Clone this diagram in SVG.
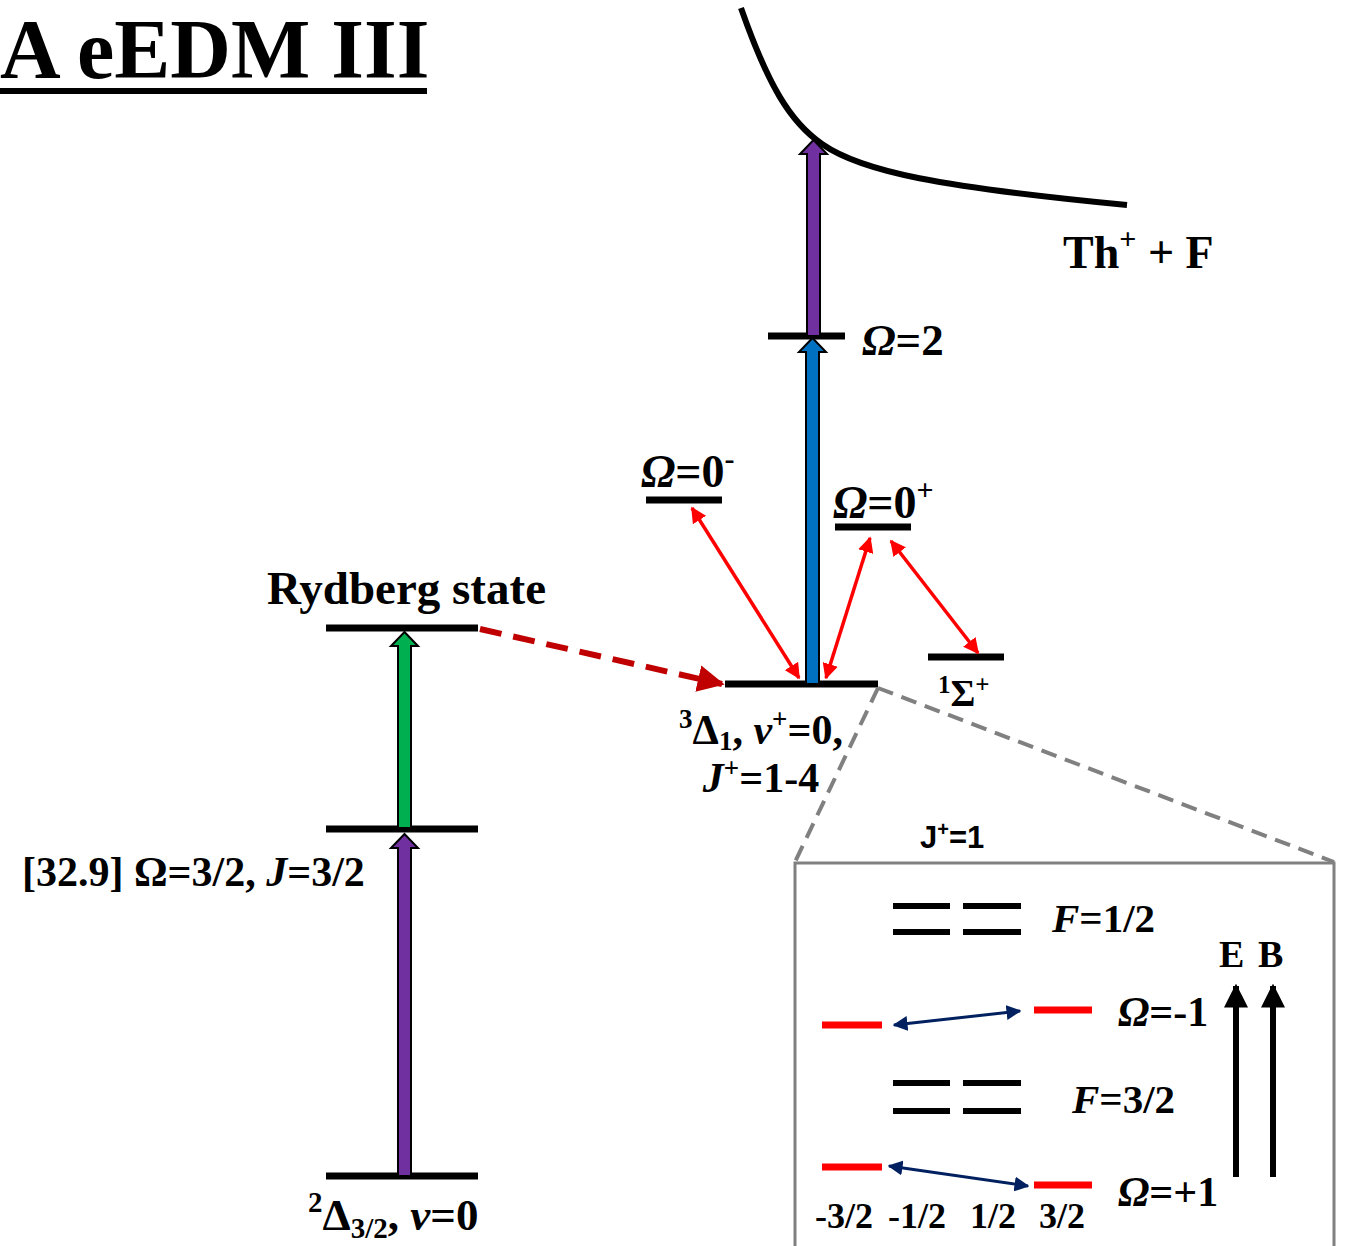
<svg xmlns="http://www.w3.org/2000/svg" width="1346" height="1246" viewBox="0 0 1346 1246">
<defs>
<style>
.t{font-family:"Liberation Serif","Times New Roman",serif;font-weight:bold;fill:#000}
.s{font-family:"Liberation Sans",Arial,sans-serif;font-weight:bold;fill:#000}
.lvl{stroke:#000;stroke-width:7;fill:none}
.red{stroke:#FF0000;stroke-width:7;fill:none}
.blk{stroke:#000;stroke-width:6;fill:none}
</style>
<marker id="rh" viewBox="0 0 10 10" refX="9" refY="5" markerWidth="4.5" markerHeight="4.5" orient="auto-start-reverse" markerUnits="strokeWidth"><path d="M0,0 L10,5 L0,10 Z" fill="#FF0000"/></marker>
<marker id="nh" viewBox="0 0 10 10" refX="9" refY="5" markerWidth="5" markerHeight="5" orient="auto-start-reverse" markerUnits="strokeWidth"><path d="M0,0 L10,5 L0,10 Z" fill="#002060"/></marker>
<marker id="dh" viewBox="0 0 10 10" refX="9" refY="5" markerWidth="4.5" markerHeight="4.5" orient="auto" markerUnits="strokeWidth"><path d="M0,0 L10,5 L0,10 Z" fill="#C00000"/></marker>
<marker id="kh" viewBox="0 0 10 10" refX="9" refY="5" markerWidth="4" markerHeight="4" orient="auto" markerUnits="strokeWidth"><path d="M0,0 L10,5 L0,10 Z" fill="#000"/></marker>
</defs>

<g id="title">
<text class="t" x="0" y="78" font-size="84">A eEDM III</text>
<rect x="0" y="88" width="427" height="6" fill="#000"/>
</g>

<g id="dissociation">
<path d="M741,8 C768,85 790,122 822,144 C862,172 940,187 1127,205" stroke="#000" stroke-width="6" fill="none"/>
<text class="t" x="1063" y="268" font-size="46">Th<tspan font-size="30" dy="-19">+</tspan><tspan dy="19"> + F</tspan></text>
</g>

<g id="omega2">
<line class="lvl" x1="768" y1="336" x2="845" y2="336"/>
<text class="t" x="862" y="355" font-size="45"><tspan font-style="italic">Ω</tspan>=2</text>
</g>

<g id="omega0minus">
<line class="lvl" x1="646" y1="500" x2="722" y2="500"/>
<text class="t" x="641" y="487" font-size="46"><tspan font-style="italic">Ω</tspan>=0<tspan font-size="30" dy="-18">-</tspan></text>
</g>

<g id="omega0plus">
<line class="lvl" x1="835" y1="527" x2="911" y2="527"/>
<text class="t" x="833" y="518" font-size="46"><tspan font-style="italic">Ω</tspan>=0<tspan font-size="30" dy="-18">+</tspan></text>
</g>

<g id="sigma">
<line class="lvl" x1="928" y1="657" x2="1004" y2="657"/>
<text class="t" x="938" y="706" font-size="38"><tspan font-size="25" dy="-13">1</tspan><tspan dy="13">Σ</tspan><tspan font-size="25" dy="-13">+</tspan></text>
</g>

<g id="delta1">
<line class="lvl" x1="725" y1="684" x2="878" y2="684"/>
<text class="t" x="761" y="744" font-size="42" text-anchor="middle"><tspan font-size="27" dy="-16">3</tspan><tspan dy="16">Δ</tspan><tspan font-size="27" dy="6">1</tspan><tspan dy="-6">, </tspan><tspan font-style="italic">v</tspan><tspan font-size="27" dy="-16">+</tspan><tspan dy="16">=0,</tspan></text>
<text class="t" x="761" y="792" font-size="42" text-anchor="middle"><tspan font-style="italic">J</tspan><tspan font-size="27" dy="-15">+</tspan><tspan dy="15">=1-4</tspan></text>
</g>

<g id="rydberg">
<line class="lvl" x1="326" y1="628" x2="478" y2="628"/>
<text class="t" x="267" y="604" font-size="47">Rydberg state</text>
</g>

<g id="intermediate">
<line class="lvl" x1="326" y1="829" x2="478" y2="829"/>
<text class="t" x="22" y="886" font-size="42">[32.9] Ω=3/2, <tspan font-style="italic">J</tspan>=3/2</text>
</g>

<g id="ground">
<line class="lvl" x1="326" y1="1176" x2="478" y2="1176"/>
<text class="t" x="308" y="1230" font-size="45"><tspan font-size="29" dy="-18">2</tspan><tspan dy="18">Δ</tspan><tspan font-size="29" dy="8">3/2</tspan><tspan dy="-8">, </tspan><tspan font-style="italic">v</tspan>=0</text>
</g>

<g id="connectors">
<path d="M807,336 L807,154 L800,154 L813.5,140 L827,154 L820,154 L820,336 Z" fill="#7030A0" stroke="#000" stroke-width="2"/>
<path d="M806,684 L806,352 L799,352 L812.5,338 L826,352 L819,352 L819,684 Z" fill="#0070C0" stroke="#000" stroke-width="2"/>
<path d="M398,828 L398,646 L391,646 L404.5,632 L418,646 L411,646 L411,828 Z" fill="#00B050" stroke="#000" stroke-width="2"/>
<path d="M398,1176 L398,848 L391,848 L404.5,834 L418,848 L411,848 L411,1176 Z" fill="#7030A0" stroke="#000" stroke-width="2"/>
<line x1="480" y1="629" x2="722" y2="684" stroke="#C00000" stroke-width="6" stroke-dasharray="22,12" marker-end="url(#dh)"/>
<line x1="692" y1="508" x2="799" y2="678" stroke="#FF0000" stroke-width="3.5" marker-start="url(#rh)" marker-end="url(#rh)"/>
<line x1="870" y1="538" x2="826" y2="678" stroke="#FF0000" stroke-width="3.5" marker-start="url(#rh)" marker-end="url(#rh)"/>
<line x1="891" y1="541" x2="978" y2="653" stroke="#FF0000" stroke-width="3.5" marker-start="url(#rh)" marker-end="url(#rh)"/>
<line x1="878" y1="688" x2="795" y2="862" stroke="#808080" stroke-width="4" stroke-dasharray="16,9"/>
<line x1="878" y1="688" x2="1334" y2="862" stroke="#808080" stroke-width="4" stroke-dasharray="16,9"/>
</g>

<g id="zoombox">
<path d="M795,1250 L795,863 L1334,863 L1334,1250" fill="none" stroke="#808080" stroke-width="3"/>
<text class="s" x="920" y="848" font-size="31">J<tspan font-size="20" dy="-12">+</tspan><tspan dy="12">=1</tspan></text>
</g>

<g id="F12">
<line class="blk" x1="893" y1="906" x2="950" y2="906"/>
<line class="blk" x1="893" y1="932" x2="950" y2="932"/>
<line class="blk" x1="963" y1="906" x2="1021" y2="906"/>
<line class="blk" x1="963" y1="932" x2="1021" y2="932"/>
<text class="t" x="1052" y="932" font-size="41"><tspan font-style="italic">F</tspan>=1/2</text>
</g>

<g id="F32">
<line class="blk" x1="893" y1="1083" x2="950" y2="1083"/>
<line class="blk" x1="893" y1="1111" x2="950" y2="1111"/>
<line class="blk" x1="963" y1="1083" x2="1021" y2="1083"/>
<line class="blk" x1="963" y1="1111" x2="1021" y2="1111"/>
<text class="t" x="1072" y="1113" font-size="41"><tspan font-style="italic">F</tspan>=3/2</text>
</g>

<g id="omegaMinus1">
<line class="red" x1="822" y1="1025" x2="882" y2="1025"/>
<line class="red" x1="1034" y1="1010" x2="1092" y2="1010"/>
<text class="t" x="1118" y="1026" font-size="42"><tspan font-style="italic">Ω</tspan>=-1</text>
</g>

<g id="omegaPlus1">
<line class="red" x1="822" y1="1167" x2="882" y2="1167"/>
<line class="red" x1="1034" y1="1185" x2="1092" y2="1185"/>
<text class="t" x="1118" y="1206" font-size="42"><tspan font-style="italic">Ω</tspan>=+1</text>
</g>

<g id="mlabels">
<text class="t" x="815" y="1228" font-size="36">-3/2</text>
<text class="t" x="888" y="1228" font-size="36">-1/2</text>
<text class="t" x="970" y="1228" font-size="36">1/2</text>
<text class="t" x="1039" y="1228" font-size="36">3/2</text>
</g>

<g id="fields">
<text class="t" x="1219" y="967" font-size="38">E</text>
<text class="t" x="1258" y="967" font-size="38">B</text>
<line x1="1236" y1="1177" x2="1236" y2="986" stroke="#000" stroke-width="6" marker-end="url(#kh)"/>
<line x1="1273" y1="1177" x2="1273" y2="986" stroke="#000" stroke-width="6" marker-end="url(#kh)"/>
</g>

<g id="inner-connectors">
<line x1="894" y1="1025" x2="1020" y2="1011" stroke="#002060" stroke-width="3" marker-start="url(#nh)" marker-end="url(#nh)"/>
<line x1="889" y1="1166" x2="1028" y2="1186" stroke="#002060" stroke-width="3" marker-start="url(#nh)" marker-end="url(#nh)"/>
</g>
</svg>
